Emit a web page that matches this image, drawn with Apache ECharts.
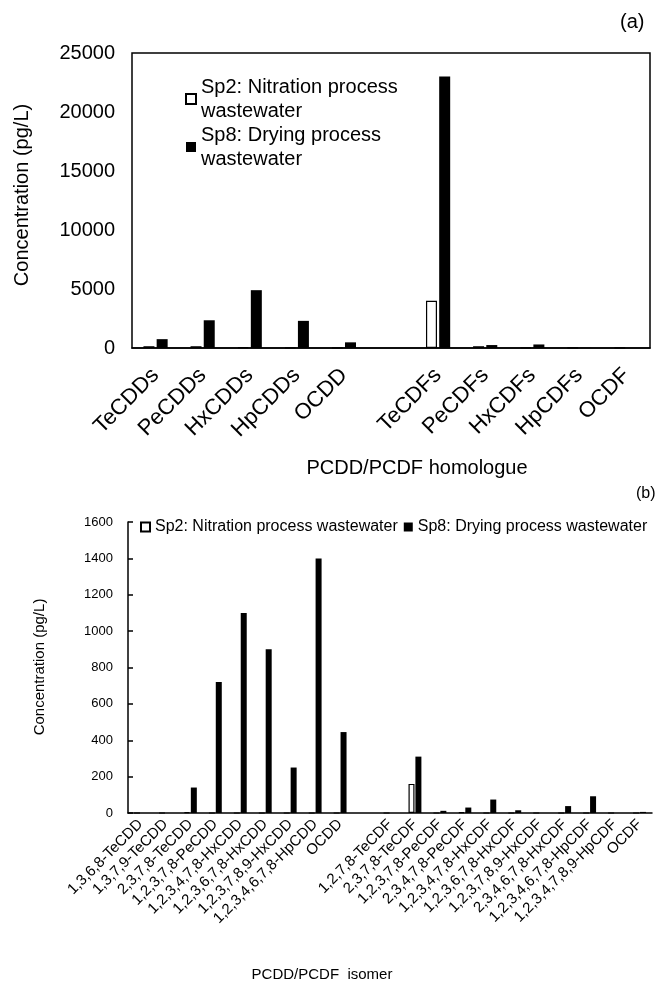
<!DOCTYPE html>
<html>
<head>
<meta charset="utf-8">
<script src="https://cdn.jsdelivr.net/npm/echarts@6/dist/echarts.min.js"></script>
<style>
  html, body { margin: 0; padding: 0; background: #fff; }
  #main { width: 659px; height: 986px; }
</style>
</head>
<body>
<div id="main"></div>
<script>
// (a) homologues
const homologues = ['TeCDDs', 'PeCDDs', 'HxCDDs', 'HpCDDs', 'OCDD', '', 'TeCDFs', 'PeCDFs', 'HxCDFs', 'HpCDFs', 'OCDF']
const homSp2 = [150, 150, 50, 20, 10, null, 4000, 150, 30, 10, 5]
const homSp8 = [750, 2350, 4900, 2300, 480, null, 23000, 250, 300, 20, 5]

// (b) isomers
const isomers = ['1,3,6,8-TeCDD', '1,3,7,9-TeCDD', '2,3,7,8-TeCDD', '1,2,3,7,8-PeCDD',
  '1,2,3,4,7,8-HxCDD', '1,2,3,6,7,8-HxCDD', '1,2,3,7,8,9-HxCDD', '1,2,3,4,6,7,8-HpCDD', 'OCDD', '',
  '1,2,7,8-TeCDF', '2,3,7,8-TeCDF', '1,2,3,7,8-PeCDF', '2,3,4,7,8-PeCDF', '1,2,3,4,7,8-HxCDF',
  '1,2,3,6,7,8-HxCDF', '1,2,3,7,8,9-HxCDF', '2,3,4,6,7,8-HxCDF', '1,2,3,4,6,7,8-HpCDF',
  '1,2,3,4,7,8,9-HpCDF', 'OCDF']
const isoSp2 = [0, 0, 5, 0, 0, 0, 0, 0, 0, null, 0, 160, 0, 4, 0, 0, 0, 0, 0, 0, 0]
const isoSp8 = [0, 0, 140, 720, 1100, 900, 250, 1400, 445, null, 0, 310, 12, 30, 74, 15, 0, 38, 92, 0, 6]

const yTicksA = { min: 0, max: 25000, interval: 5000 }
const yTicksB = { min: 0, max: 1600, interval: 200 }

const FONT = '"Liberation Sans", Arial, sans-serif'
const nameSp2A = 'Sp2: Nitration process\nwastewater'
const nameSp8A = 'Sp8: Drying process\nwastewater'
const nameSp2B = 'Sp2: Nitration process wastewater'
const nameSp8B = 'Sp8: Drying process wastewater'

const chart = echarts.init(document.getElementById('main'))

const hollow = { color: '#fff', borderColor: '#000', borderWidth: 1.2 }
const solid = { color: '#000' }
const plain = v => String(v) // 不要千位分隔符

chart.setOption({
  animation: false,
  textStyle: { fontFamily: FONT, color: '#000' },
  grid: [
    // 上图，带外框
    { left: 132, right: 9, top: 53, bottom: 638, show: true, borderColor: '#000', borderWidth: 1.5, backgroundColor: 'transparent' },
    // 下图
    { left: 128, right: 7, top: 522, bottom: 173 }
  ],
  legend: [
    {
      orient: 'vertical',
      left: 185,
      top: 63,
      padding: 0,
      itemGap: -24,
      itemWidth: 10,
      itemHeight: 10,
      icon: 'rect',
      selectedMode: false,
      data: [nameSp2A, nameSp8A],
      textStyle: { fontFamily: FONT, fontSize: 20, color: '#000', lineHeight: 24, padding: [24, 0, 0, 0] }
    },
    {
      orient: 'horizontal',
      left: 140,
      top: 519,
      padding: 0,
      itemGap: 6,
      itemWidth: 9,
      itemHeight: 9,
      icon: 'rect',
      selectedMode: false,
      data: [nameSp2B, nameSp8B],
      textStyle: { fontFamily: FONT, fontSize: 16, color: '#000' }
    }
  ],
  xAxis: [
    {
      type: 'category',
      gridIndex: 0,
      data: homologues,
      axisLine: { lineStyle: { color: '#000', width: 1.5 } },
      axisTick: { show: false },
      axisLabel: { interval: 0, rotate: 45, margin: 24, fontSize: 22, color: '#000', fontFamily: FONT }
    },
    {
      type: 'category',
      gridIndex: 1,
      data: isomers,
      axisLine: { lineStyle: { color: '#000', width: 1.5 } },
      axisTick: { show: false },
      axisLabel: { interval: 0, rotate: 45, margin: 9, fontSize: 15, color: '#000', fontFamily: FONT }
    }
  ],
  yAxis: [
    {
      type: 'value',
      gridIndex: 0,
      min: yTicksA.min,
      max: yTicksA.max,
      interval: yTicksA.interval,
      splitLine: { show: false },
      axisLine: { show: false },
      axisTick: { show: false },
      axisLabel: { margin: 17, fontSize: 20, color: '#000', fontFamily: FONT, formatter: plain }
    },
    {
      type: 'value',
      gridIndex: 1,
      min: yTicksB.min,
      max: yTicksB.max,
      interval: yTicksB.interval,
      splitLine: { show: false },
      axisLine: { show: true, lineStyle: { color: '#000', width: 1.5 } },
      axisTick: { show: true, inside: true, length: 5, lineStyle: { color: '#000', width: 1.5 } },
      axisLabel: { margin: 15, fontSize: 13, color: '#000', fontFamily: FONT, formatter: plain }
    }
  ],
  series: [
    { name: nameSp2A, type: 'bar', xAxisIndex: 0, yAxisIndex: 0, data: homSp2, barWidth: 11, barGap: '20%', itemStyle: hollow },
    { name: nameSp8A, type: 'bar', xAxisIndex: 0, yAxisIndex: 0, data: homSp8, barWidth: 11, barGap: '20%', itemStyle: solid },
    { name: nameSp2B, type: 'bar', xAxisIndex: 1, yAxisIndex: 1, data: isoSp2, barWidth: 6, barGap: '15%', itemStyle: hollow },
    { name: nameSp8B, type: 'bar', xAxisIndex: 1, yAxisIndex: 1, data: isoSp8, barWidth: 6, barGap: '15%', itemStyle: solid }
  ],
  graphic: [
    // 坐标轴标题和图号
    { type: 'text', left: 620, top: 12, style: { text: '(a)', font: '20px ' + FONT, fill: '#000' } },
    { type: 'text', x: 22, y: 195, rotation: Math.PI / 2, style: { text: 'Concentration (pg/L)', font: '20px ' + FONT, fill: '#000', align: 'center', verticalAlign: 'middle' } },
    { type: 'text', x: 417, y: 468, style: { text: 'PCDD/PCDF homologue', font: '20px ' + FONT, fill: '#000', align: 'center', verticalAlign: 'middle' } },
    { type: 'text', left: 636, top: 486, style: { text: '(b)', font: '16px ' + FONT, fill: '#000' } },
    { type: 'text', x: 40, y: 667, rotation: Math.PI / 2, style: { text: 'Concentration (pg/L)', font: '15px ' + FONT, fill: '#000', align: 'center', verticalAlign: 'middle' } },
    { type: 'text', x: 322, y: 975, style: { text: 'PCDD/PCDF  isomer', font: '15px ' + FONT, fill: '#000', align: 'center', verticalAlign: 'middle' } }
  ]
})
</script>
</body>
</html>
